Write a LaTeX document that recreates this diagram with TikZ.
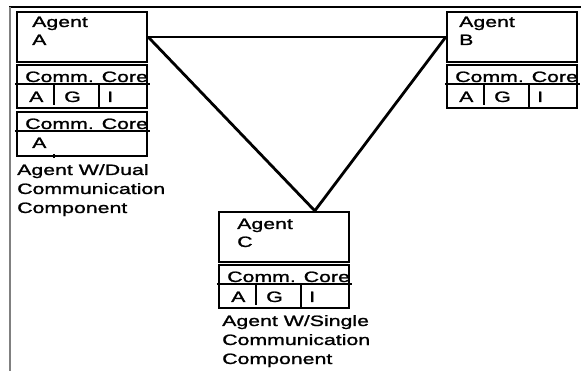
\documentclass[tikz,border=0pt]{standalone}
\usepackage{fontspec}
\setmainfont{Liberation Sans}[FakeStretch=1.42, FakeBold=1.4]
\usetikzlibrary{calc}
\tikzset{
  agentbox/.style={draw, line width=2.4pt, minimum width=130pt, minimum height=50pt, inner sep=0pt},
  corebox/.style={draw, line width=2.4pt, minimum width=130pt, minimum height=43pt, inner sep=0pt},
  rule/.style={line width=2.2pt},
  txt/.style={inner sep=0pt, anchor=base west, font=\fontsize{15}{18}\selectfont},
  link/.style={line width=2.8pt, line join=miter},
}
% #1 prefix, #2 x, #3 y, #4 letter, #5 text x offset, #6 text y offset
\newcommand\agentgroup[6]{%
  \begin{scope}[shift={(#2,#3)}]
    \node[agentbox] (#1box) at (65,25) {};
    \node[txt] (#1ta) at (#5,#6) {Agent};
    \node[txt] (#1tb) at (#5,#6+18) {#4};
    \node[corebox] (#1core) at (65,74.5) {};
    \draw[rule] ($(#1core.north west)+(-1,20)$) -- ($(#1core.north east)+(2,20)$);
    \draw[rule] ($(#1core.north west)+(38,20)$) -- ($(#1core.south west)+(38,-4)$);
    \draw[rule] ($(#1core.north west)+(83,20)$) -- ($(#1core.south west)+(83,0)$);
    \node[txt] (#1cc) at (8,70) {Comm. Core};
    \node[txt] (#1ca) at (12,90) {A};
    \node[txt] (#1cg) at (47,90) {G};
    \node[txt] (#1ci) at (90,90) {I};
  \end{scope}}

\begin{document}
\begin{tikzpicture}[x=1pt, y=-1pt]
  \useasboundingbox (0,0) rectangle (581,371);
  % frame
  \draw[line width=1.8pt] (9,7) -- (581,7);
  \draw[gray, line width=2pt] (10,7) -- (10,371);

  \agentgroup{A}{17}{12}{A}{15}{15}
  \agentgroup{B}{447}{12}{B}{12}{15}
  \agentgroup{C}{219}{212}{C}{18}{17}

  % second comm core of agent A
  \node[corebox, minimum height=44pt] (Acore2) at (82,134) {};
  \draw[rule] ($(Acore2.north west)+(-1,20)$) -- ($(Acore2.north east)+(2,20)$);
  \draw[rule] ($(Acore2.south west)+(38,1)$) -- ($(Acore2.south west)+(38,-3)$);
  \node[txt] (Acc2) at (25,129) {Comm. Core};
  \node[txt] (Aca2) at (32,148) {A};

  % captions
  \node[txt] (dual1) at (17,175) {Agent W/Dual};
  \node[txt] (dual2) at (17,194) {Communication};
  \node[txt] (dual3) at (17,213) {Component};
  \node[txt] (single1) at (222,326) {Agent W/Single};
  \node[txt] (single2) at (222,345) {Communication};
  \node[txt] (single3) at (222,364) {Component};

  % triangle of links
  \coordinate (apex) at ($(Cbox.north west)+(97,0)$);
  \draw[link] (Abox.east) -- (Bbox.west);
  \draw[link] (Abox.east) -- (apex);
  \draw[link] (Bbox.west) -- (apex);
\end{tikzpicture}
\end{document}
